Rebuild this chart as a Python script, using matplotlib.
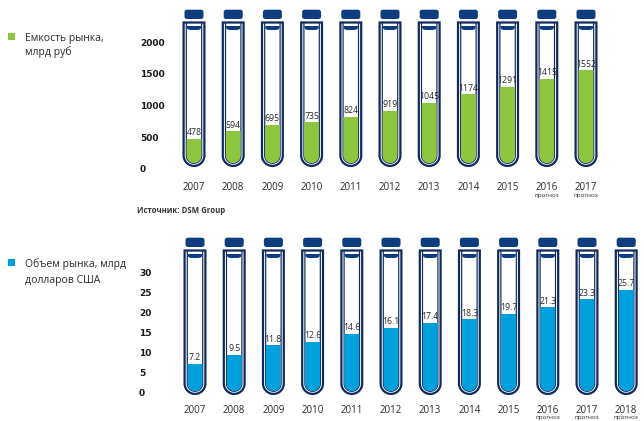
import numpy as np
import matplotlib
matplotlib.use("Agg")
import matplotlib.pyplot as plt
from matplotlib.path import Path
from matplotlib.patches import PathPatch, FancyBboxPatch, Rectangle
import matplotlib.transforms as mt

# ---------------- data ----------------
years_rub = ["2007", "2008", "2009", "2010", "2011", "2012", "2013", "2014", "2015", "2016", "2017"]
rub_values = [478, 594, 695, 735, 824, 919, 1045, 1174, 1291, 1415, 1552]
forecast_rub = ["2016", "2017"]
rub_ticks = [0, 500, 1000, 1500, 2000]
legend_rub = ["Емкость рынка,", "млрд руб"]

years_usd = ["2007", "2008", "2009", "2010", "2011", "2012", "2013", "2014", "2015", "2016", "2017", "2018"]
usd_values = [7.2, 9.5, 11.8, 12.6, 14.6, 16.1, 17.4, 18.3, 19.7, 21.3, 23.3, 25.7]
forecast_usd = ["2016", "2017", "2018"]
usd_ticks = [0, 5, 10, 15, 20, 25, 30]
legend_usd = ["Объем рынка, млрд", "долларов США"]

source_text = "Источник: DSM Group"
forecast_word = "прогноз"

# ---------------- style ----------------
W, H, DPI = 644, 421, 100
GREEN = "#8cc63f"
BLUE = "#00a0dc"
NAVY = "#0f2a5c"
CAP = "#0d3d7e"
TXT = "#2a2a2a"
NUMFONT = ["Open Sans", "DejaVu Sans"]

fig = plt.figure(figsize=(W / DPI, H / DPI), dpi=DPI)
fig.patch.set_facecolor("white")


def fig_rect(top_px, bottom_px):
    return [0, 1 - bottom_px / H, 1, (bottom_px - top_px) / H]


def u_path(hw, y_bot, y_top, closed=True, n=40):
    t = np.linspace(np.pi, 2 * np.pi, n)
    arc = np.column_stack([hw * np.cos(t), y_bot + hw + hw * np.sin(t)])
    verts = [(-hw, y_top)] + arc.tolist() + [(hw, y_top)]
    codes = [Path.MOVETO] + [Path.LINETO] * (len(verts) - 1)
    if closed:
        verts.append((-hw, y_top))
        codes.append(Path.CLOSEPOLY)
    return Path(verts, codes)


def lip_path(hw, y_top, depth, n=40):
    t = np.linspace(np.pi, 2 * np.pi, n)
    c, s = np.cos(t), np.sin(t)
    px = hw * np.sign(c) * np.abs(c) ** 0.45
    py = y_top + depth * np.sign(s) * np.abs(s) ** 0.6
    pts = np.column_stack([px, py])
    verts = pts.tolist() + [pts[0].tolist()]
    codes = [Path.MOVETO] + [Path.LINETO] * (len(pts) - 1) + [Path.CLOSEPOLY]
    return Path(verts, codes)


def panel(top_px, bottom_px, zero_row, px_per_unit, first_center, spacing,
          years, values, forecast, ticks, color, fmt, b, tick_x, fc_off):
    ax = fig.add_axes(fig_rect(top_px, bottom_px))
    ax.set_facecolor("none")
    for s in ax.spines.values():
        s.set_visible(False)
    n = len(years)
    x = np.arange(n)
    ax.set_xlim(-first_center / spacing, (W - first_center) / spacing)
    ax.set_ylim((zero_row - bottom_px) / px_per_unit, (zero_row - top_px) / px_per_unit)

    for i in range(n):
        tr = mt.ScaledTranslation(x[i], 0, ax.transData)
        outer = PathPatch(u_path(10.4, b + 1.1, b + 144.5), facecolor="white",
                          edgecolor=NAVY, lw=1.6, transform=tr, clip_on=False, zorder=2)
        ax.add_patch(outer)
        clip = PathPatch(u_path(7.4, b + 4.0, b + 143), transform=tr,
                         facecolor="none", edgecolor="none")
        ax.add_patch(clip)
        inner = PathPatch(u_path(7.7, b + 3.7, b + 144.5, closed=False), facecolor="none",
                          edgecolor=NAVY, lw=0.85, transform=tr, clip_on=False, zorder=2.5)
        ax.add_patch(inner)
        cap = FancyBboxPatch((-9.5, b + 148), 19, 9.3, boxstyle="round,pad=0,rounding_size=2.4",
                             facecolor=CAP, edgecolor="none", transform=tr,
                             clip_on=False, zorder=3)
        ax.add_patch(cap)
        lip = PathPatch(lip_path(7.2, b + 141, 4.0), facecolor=CAP, edgecolor="none",
                        transform=tr, clip_on=False, zorder=3)
        ax.add_patch(lip)
        bar = ax.bar(x[i], values[i], width=0.6, color=color, zorder=2.8)[0]
        bar.set_clip_path(clip)
        ax.annotate(fmt(values[i]), (x[i], values[i]), xytext=(0, 1.2),
                    textcoords="offset points", ha="center", va="bottom",
                    fontsize=6.3, family=NUMFONT, color=TXT, zorder=4)
        if years[i] in forecast:
            ax.annotate(forecast_word, (x[i], 0), xycoords=("data", "axes fraction"),
                        xytext=(0, fc_off), textcoords="offset points", ha="center",
                        va="top", fontsize=4.5, family=NUMFONT, color=TXT)

    ax.set_xticks(x, years)
    ax.set_yticks(ticks)
    ax.tick_params(axis="x", length=0, pad=2.0, labelsize=7, labelcolor=TXT)
    ax.tick_params(axis="y", length=0, pad=-tick_x * 72 / DPI, labelsize=6.5, labelcolor="#1a1a1a")
    for lab in ax.get_xticklabels():
        lab.set_family(NUMFONT)
    for lab in ax.get_yticklabels():
        lab.set_horizontalalignment("left")
        lab.set_fontweight("bold")
        lab.set_family("DejaVu Sans")
    return ax


panel(0, 179, 169, 0.0635, 194, 39.2, years_rub, rub_values, forecast_rub,
      rub_ticks, GREEN, lambda v: f"{v:d}", 2, 140, -10.3)
panel(205, 402, 392.5, 4.0, 195, 39.2, years_usd, usd_values, forecast_usd,
      usd_ticks, BLUE, lambda v: f"{v:.1f}", -2.5, 139, -9.6)


def fx(px):
    return px / W


def fy(py):
    return 1 - py / H


# legends
fig.add_artist(Rectangle((fx(8), fy(39.5)), 6.5 / W, 6.5 / H, transform=fig.transFigure,
                         facecolor=GREEN, edgecolor="none"))
fig.text(fx(25), fy(40.5), legend_rub[0], fontsize=7.5, family=NUMFONT, color=TXT, va="baseline")
fig.text(fx(25), fy(55.5), legend_rub[1], fontsize=7.5, family=NUMFONT, color=TXT, va="baseline")

fig.add_artist(Rectangle((fx(8), fy(265.5)), 6.5 / W, 6.5 / H, transform=fig.transFigure,
                         facecolor=BLUE, edgecolor="none"))
fig.text(fx(25), fy(267.5), legend_usd[0], fontsize=7.5, family=NUMFONT, color=TXT, va="baseline")
fig.text(fx(25), fy(282.5), legend_usd[1], fontsize=7.5, family=NUMFONT, color=TXT, va="baseline")

fig.text(fx(137), fy(213), source_text, fontsize=5.6, family=NUMFONT, fontweight="bold",
         color="#333333", va="baseline")

fig.savefig("out.png", dpi=DPI, facecolor="white")
